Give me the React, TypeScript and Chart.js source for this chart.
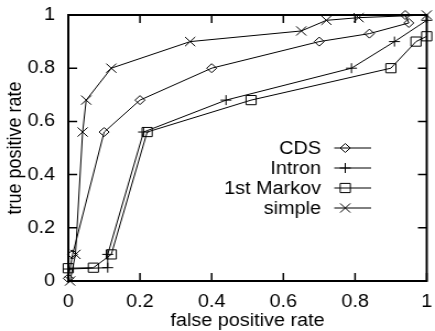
import React, { useEffect, useRef } from 'react';
import { Chart, registerables } from 'chart.js';

Chart.register(...registerables);

// ---------- data ----------
const xTicks = [0, 0.2, 0.4, 0.6, 0.8, 1];
const yTicks = [0, 0.2, 0.4, 0.6, 0.8, 1];

const xTitle = 'false positive rate';
const yTitle = 'true positive rate';

const seriesNames = ['CDS', 'Intron', '1st Markov', 'simple'];

const cdsFpr = [0, 0.012, 0.1, 0.2, 0.4, 0.7, 0.84, 0.95, 0.94];
const cdsTpr = [0.01, 0.1, 0.56, 0.68, 0.8, 0.9, 0.93, 0.97, 1.0];

const intronFpr = [0, 0.11, 0.11, 0.21, 0.44, 0.79, 0.91, 1.0];
const intronTpr = [0.045, 0.05, 0.1, 0.56, 0.68, 0.8, 0.9, 0.98];

const markovFpr = [0, 0.07, 0.12, 0.22, 0.51, 0.9, 0.97, 1.0];
const markovTpr = [0.048, 0.05, 0.1, 0.56, 0.68, 0.8, 0.9, 0.92];

const simpleFpr = [0.005, 0.02, 0.04, 0.05, 0.12, 0.34, 0.65, 0.72, 0.81, 1.0];
const simpleTpr = [0, 0.1, 0.56, 0.68, 0.8, 0.9, 0.94, 0.98, 0.99, 1.0];

// ---------- styling ----------
const FONT = '"Liberation Sans", Arial, Helvetica, sans-serif';
const CANVAS_W = 395;
const CANVAS_H = 331;
const OUT_W = 435;
const STRETCH = OUT_W / CANVAS_W;

const markerStyles = ['rectRot', 'cross', 'rect', 'crossRot'];
const markerRadii = [4.5, 5, 6.5, 6.5];

function toPoints(xs: number[], ys: number[]) {
  return xs.map((x, i) => ({ x, y: ys[i] }));
}

function drawMarker(ctx: CanvasRenderingContext2D, style: string, x: number, y: number, r: number) {
  ctx.beginPath();
  if (style === 'rectRot') {
    ctx.moveTo(x - r, y);
    ctx.lineTo(x, y - r);
    ctx.lineTo(x + r, y);
    ctx.lineTo(x, y + r);
    ctx.closePath();
  } else if (style === 'cross') {
    ctx.moveTo(x - r, y);
    ctx.lineTo(x + r, y);
    ctx.moveTo(x, y - r);
    ctx.lineTo(x, y + r);
  } else if (style === 'rect') {
    const s = r * Math.SQRT1_2;
    ctx.rect(x - s, y - s, 2 * s, 2 * s);
  } else if (style === 'crossRot') {
    const s = r * Math.SQRT1_2;
    ctx.moveTo(x - s, y - s);
    ctx.lineTo(x + s, y + s);
    ctx.moveTo(x + s, y - s);
    ctx.lineTo(x - s, y + s);
  }
  ctx.stroke();
}

const framePlugin = {
  id: 'gnuFrame',
  beforeDatasetsDraw(chart: any) {
    const { ctx, chartArea: a, scales } = chart;
    ctx.save();
    ctx.strokeStyle = '#000';
    ctx.lineWidth = 1.5;
    ctx.beginPath();
    const tl = 8;
    for (const v of xTicks) {
      const px = scales.x.getPixelForValue(v);
      ctx.moveTo(px, a.bottom);
      ctx.lineTo(px, a.bottom - tl);
      ctx.moveTo(px, a.top);
      ctx.lineTo(px, a.top + tl);
    }
    for (const v of yTicks) {
      const py = scales.y.getPixelForValue(v);
      ctx.moveTo(a.left, py);
      ctx.lineTo(a.left + tl, py);
      ctx.moveTo(a.right, py);
      ctx.lineTo(a.right - tl, py);
    }
    ctx.stroke();
    ctx.lineWidth = 2;
    ctx.strokeRect(a.left, a.top, a.right - a.left, a.bottom - a.top);
    ctx.restore();
  },
};

const legendPlugin = {
  id: 'gnuKey',
  afterDraw(chart: any) {
    const ctx: CanvasRenderingContext2D = chart.ctx;
    const textRight = 291.5;
    const lineStart = 303.5;
    const lineEnd = 337;
    const markerX = 313.5;
    const top = 148;
    const gap = 20;
    ctx.save();
    ctx.font = `18px ${FONT}`;
    ctx.textAlign = 'right';
    ctx.textBaseline = 'middle';
    ctx.fillStyle = '#000';
    ctx.strokeStyle = '#000';
    ctx.lineWidth = 1;
    chart.data.datasets.forEach((ds: any, i: number) => {
      const y = top + i * gap;
      ctx.fillText(ds.label, textRight, y + 1);
      ctx.beginPath();
      ctx.moveTo(lineStart, y);
      ctx.lineTo(lineEnd, y);
      ctx.stroke();
      drawMarker(ctx, ds.pointStyle, markerX, y, ds.pointRadius);
    });
    ctx.restore();
  },
};

export default function App() {
  const ref = useRef<HTMLCanvasElement | null>(null);

  useEffect(() => {
    document.body.style.margin = '0';
    const canvas = ref.current;
    if (!canvas) return;

    const seriesData = [
      toPoints(cdsFpr, cdsTpr),
      toPoints(intronFpr, intronTpr),
      toPoints(markovFpr, markovTpr),
      toPoints(simpleFpr, simpleTpr),
    ];

    const datasets = seriesNames.map((name, i) => ({
      label: name,
      data: seriesData[i],
      showLine: true,
      borderColor: '#000',
      borderWidth: 1,
      tension: 0,
      pointStyle: markerStyles[i],
      pointRadius: markerRadii[i],
      pointHoverRadius: markerRadii[i],
      pointBorderColor: '#000',
      pointBackgroundColor: 'rgba(0,0,0,0)',
      pointBorderWidth: 1,
      clip: false,
    }));

    const tickFont = { family: FONT, size: 18, lineHeight: 1.2 };

    const chart = new Chart(canvas, {
      type: 'scatter',
      data: { datasets },
      options: {
        responsive: false,
        animation: false,
        devicePixelRatio: 1,
        layout: { padding: { top: 15, right: 3, left: 0, bottom: 0 } },
        plugins: {
          legend: { display: false },
          tooltip: { enabled: false },
        },
        scales: {
          x: {
            type: 'linear',
            min: 0,
            max: 1,
            grid: { display: false, drawTicks: false },
            border: { display: false },
            afterBuildTicks: (s: any) => {
              s.ticks = xTicks.map((v) => ({ value: v }));
            },
            afterFit: (s: any) => {
              s.height = 50;
              s.paddingLeft = 0;
              s.paddingRight = 0;
            },
            ticks: {
              color: '#000',
              padding: 10,
              font: tickFont,
              autoSkip: false,
              maxRotation: 0,
              callback: (v: any) => String(v),
            },
            title: {
              display: true,
              text: xTitle,
              color: '#000',
              font: { family: FONT, size: 18, lineHeight: 1.12 },
              padding: { top: 0, bottom: 0 },
            },
          },
          y: {
            type: 'linear',
            min: 0,
            max: 1,
            grid: { display: false, drawTicks: false },
            border: { display: false },
            afterBuildTicks: (s: any) => {
              s.ticks = yTicks.map((v) => ({ value: v }));
            },
            afterFit: (s: any) => {
              s.width = 62;
              s.paddingTop = 0;
              s.paddingBottom = 0;
            },
            ticks: {
              color: '#000',
              padding: 12,
              font: tickFont,
              autoSkip: false,
              callback: (v: any) => String(v),
            },
            title: {
              display: true,
              text: yTitle,
              color: '#000',
              font: { family: FONT, size: 18, lineHeight: 1.2 },
              padding: { top: 3, bottom: 0 },
            },
          },
        },
      } as any,
      plugins: [framePlugin, legendPlugin],
    } as any);

    return () => chart.destroy();
  }, []);

  return (
    <div
      style={{
        position: 'fixed',
        left: 0,
        top: 0,
        width: OUT_W,
        height: CANVAS_H,
        overflow: 'hidden',
        background: '#fff',
      }}
    >
      <canvas
        ref={ref}
        width={CANVAS_W}
        height={CANVAS_H}
        style={{
          display: 'block',
          width: CANVAS_W,
          height: CANVAS_H,
          transform: `scaleX(${STRETCH})`,
          transformOrigin: '0 0',
        }}
      />
    </div>
  );
}
